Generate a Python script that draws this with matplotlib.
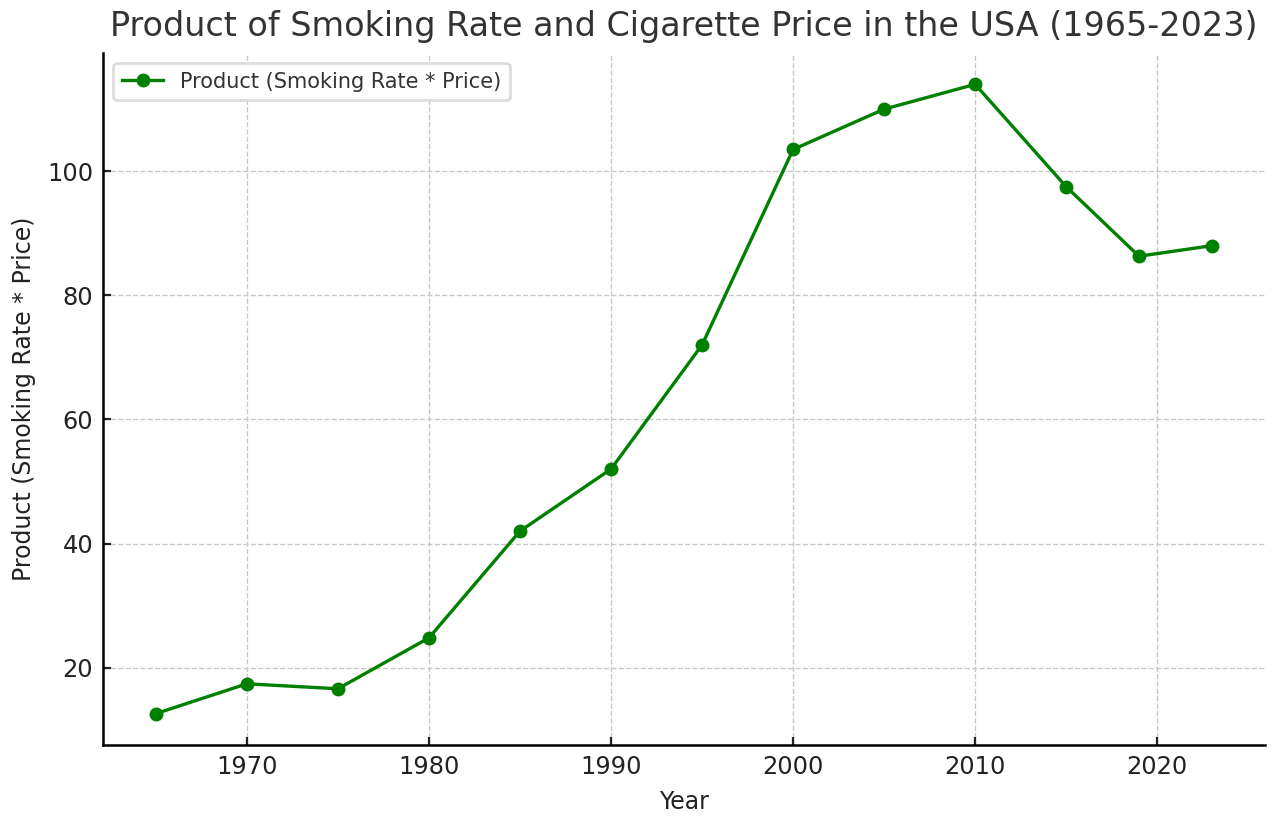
import matplotlib.pyplot as plt

years = [1965, 1970, 1975, 1980, 1985, 1990, 1995, 2000, 2005, 2010, 2015, 2019, 2023]
product = [12.6, 17.4, 16.6, 24.8, 42.0, 52.0, 72.0, 103.5, 110.0, 114.0, 97.5, 86.3, 88.0]

plt.rcParams['font.family'] = ['DejaVu Sans']

fig, ax = plt.subplots(figsize=(6.4, 4.13), dpi=200)
ax.plot(years, product, marker="o", color="green", linewidth=1.2, markersize=4,
        label="Product (Smoking Rate * Price)")

ax.set_title("Product of Smoking Rate and Cigarette Price in the USA (1965-2023)",
             fontsize=12, color="#333333")
ax.set_xlabel("Year", fontsize=8.5, color="#222222")
ax.set_ylabel("Product (Smoking Rate * Price)", fontsize=8.5, color="#222222")
ax.tick_params(direction="in", labelsize=8.7, width=0.8, length=3, colors="#222222")
ax.grid(True, linestyle="--", linewidth=0.5, color="#c8c8c8")
ax.spines["top"].set_visible(False)
ax.spines["right"].set_visible(False)
for s in ("left", "bottom"):
    ax.spines[s].set_linewidth(0.9)
leg = ax.legend(loc="upper left", fontsize=7.5, framealpha=1, edgecolor="#dddddd")
for t in leg.get_texts():
    t.set_color("#333333")

fig.subplots_adjust(left=0.0805, right=0.988, bottom=0.098, top=0.936)
plt.savefig("out.png", dpi=200)
